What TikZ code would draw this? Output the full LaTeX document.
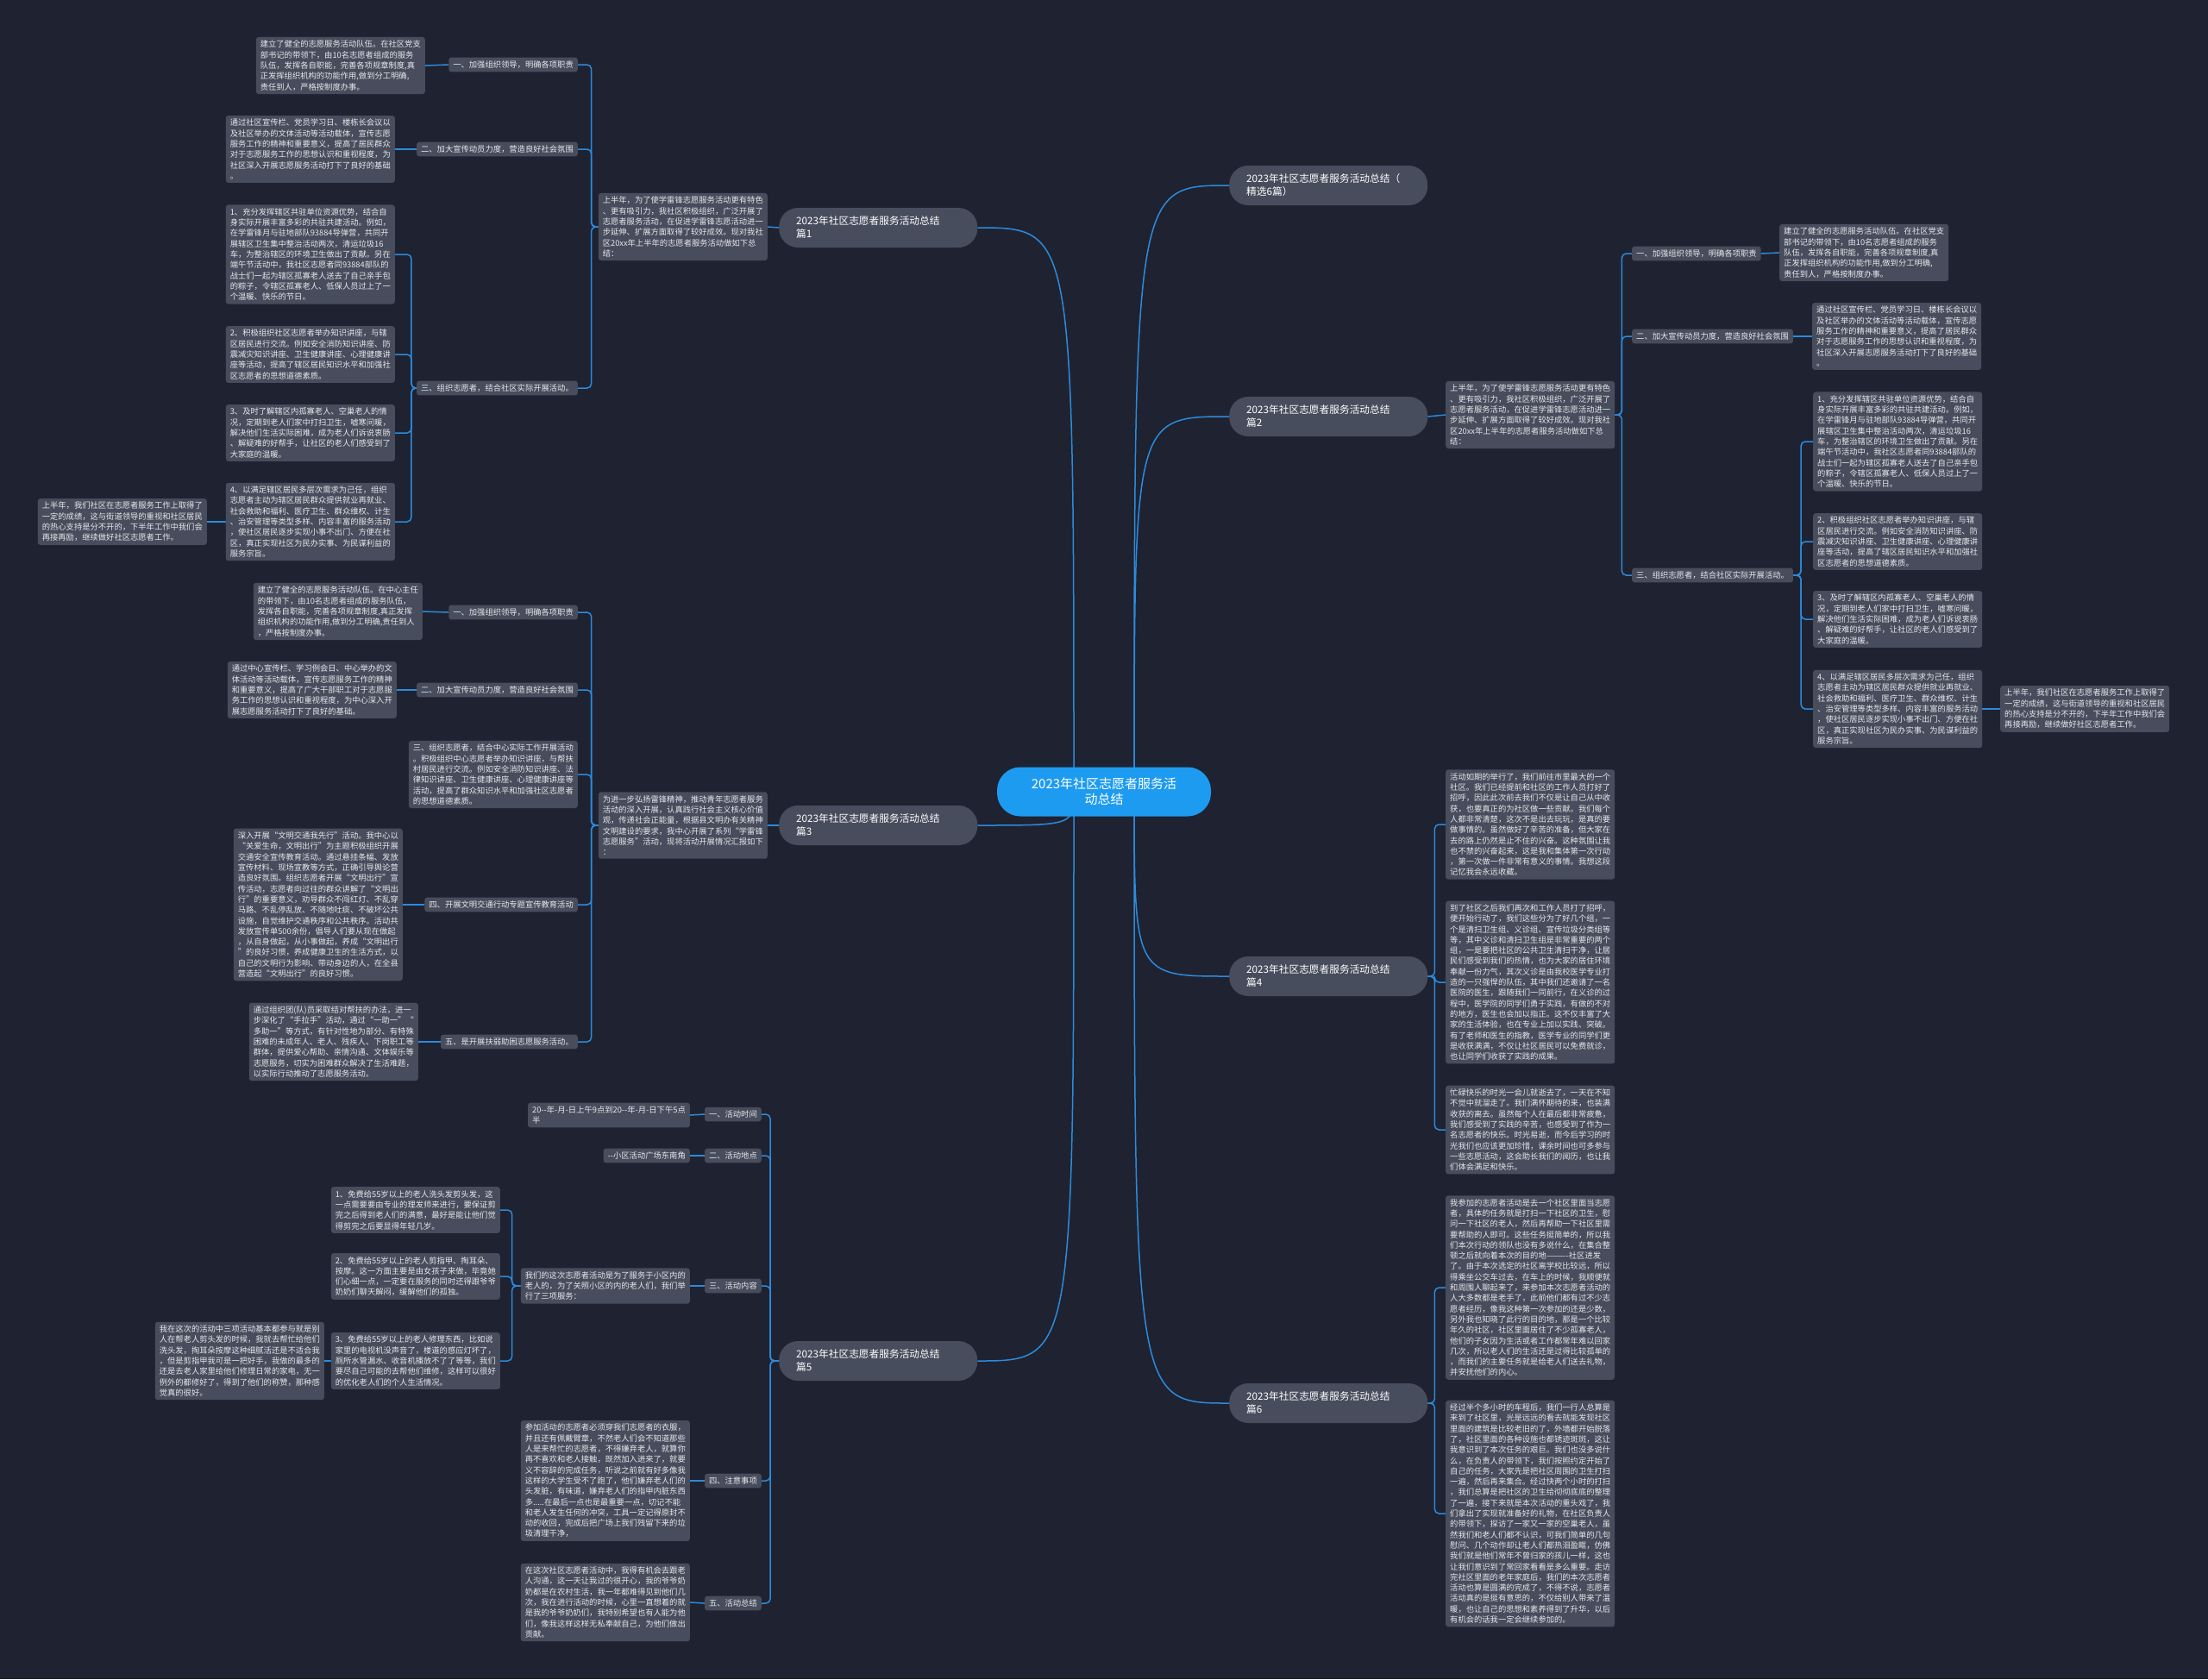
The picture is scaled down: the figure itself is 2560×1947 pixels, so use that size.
\documentclass[tikz,border=0pt]{standalone}
\usepackage{fontspec}
\newfontfamily\cjk{Noto Sans CJK SC}
\usetikzlibrary{backgrounds}
\definecolor{bgnavy}{HTML}{1F2230}
\definecolor{boxgray}{HTML}{474D5C}
\definecolor{linkblue}{HTML}{2C8BDD}
\definecolor{rootblue}{HTML}{1D9BF0}
\definecolor{txtgray}{HTML}{E8E8EC}
\tikzset{
  box/.style={fill=boxgray,rounded corners=3pt,text=txtgray,align=left,inner xsep=5pt,inner ysep=4pt,font=\cjk\fontsize{9.3}{12.3}\selectfont},
  topic/.style={fill=boxgray,rounded corners=22pt,text=white,align=left,text width=190pt,minimum height=46pt,inner xsep=20pt,font=\cjk\fontsize{11.7}{15}\selectfont},
  root/.style={fill=rootblue,rounded corners=27pt,text=white,align=center,minimum width=248pt,minimum height=57pt,font=\cjk\fontsize{15}{18}\selectfont},
  link/.style={draw=linkblue,line width=1.5pt,rounded corners=5pt},
}
\begin{document}
\begin{tikzpicture}[x=1pt,y=-1pt]
\useasboundingbox (0,0) rectangle (2560,1947);
% root and first level
\node[root] (root) at (1280,918) {2023年社区志愿者服务活\\动总结};
\node[topic,anchor=west] (bt) at (1425,215) {2023年社区志愿者服务活动总结（\\精选6篇）};
\node[topic,anchor=west] (b2) at (1425,483) {2023年社区志愿者服务活动总结\\篇2};
\node[topic,anchor=west] (b4) at (1425,1132) {2023年社区志愿者服务活动总结\\篇4};
\node[topic,anchor=west] (b6) at (1425,1627) {2023年社区志愿者服务活动总结\\篇6};
\node[topic,anchor=west] (b1) at (903,264) {2023年社区志愿者服务活动总结\\篇1};
\node[topic,anchor=west] (b3) at (903,957) {2023年社区志愿者服务活动总结\\篇3};
\node[topic,anchor=west] (b5) at (903,1578) {2023年社区志愿者服务活动总结\\篇5};

% 篇1
\node[box,anchor=east] (p1) at (890,263) {上半年，为了使学雷锋志愿服务活动更有特色\\、更有吸引力，我社区积极组织，广泛开展了\\志愿者服务活动，在促进学雷锋志愿活动进一\\步延伸、扩展方面取得了较好成效。现对我社\\区20xx年上半年的志愿者服务活动做如下总\\结：};
\node[box,anchor=east] (i11) at (670,75) {一、加强组织领导，明确各项职责};
\node[box,anchor=east] (t11) at (493,76) {建立了健全的志愿服务活动队伍。在社区党支\\部书记的带领下，由10名志愿者组成的服务\\队伍，发挥各自职能，完善各项规章制度,真\\正发挥组织机构的功能作用,做到分工明确,\\责任到人，严格按制度办事。};
\node[box,anchor=east] (i12) at (670,173) {二、加大宣传动员力度，营造良好社会氛围};
\node[box,anchor=east] (t12) at (458,173) {通过社区宣传栏、党员学习日、楼栋长会议以\\及社区举办的文体活动等活动载体，宣传志愿\\服务工作的精神和重要意义，提高了居民群众\\对于志愿服务工作的思想认识和重视程度，为\\社区深入开展志愿服务活动打下了良好的基础\\。};
\node[box,anchor=east] (i13) at (670,450) {三、组织志愿者，结合社区实际开展活动。};
\node[box,anchor=east] (t131) at (458,295) {1、充分发挥辖区共驻单位资源优势，结合自\\身实际开展丰富多彩的共驻共建活动。例如，\\在学雷锋月与驻地部队93884导弹营，共同开\\展辖区卫生集中整治活动两次，清运垃圾16\\车，为整治辖区的环境卫生做出了贡献。另在\\端午节活动中，我社区志愿者同93884部队的\\战士们一起为辖区孤寡老人送去了自己亲手包\\的粽子，令辖区孤寡老人、低保人员过上了一\\个温暖、快乐的节日。};
\node[box,anchor=east] (t132) at (458,411) {2、积极组织社区志愿者举办知识讲座，与辖\\区居民进行交流。例如安全消防知识讲座、防\\震减灾知识讲座、卫生健康讲座、心理健康讲\\座等活动，提高了辖区居民知识水平和加强社\\区志愿者的思想道德素质。};
\node[box,anchor=east] (t133) at (458,502) {3、及时了解辖区内孤寡老人、空巢老人的情\\况，定期到老人们家中打扫卫生，嘘寒问暖，\\解决他们生活实际困难，成为老人们诉说衷肠\\、解疑难的好帮手，让社区的老人们感受到了\\大家庭的温暖。};
\node[box,anchor=east] (t134) at (458,605) {4、以满足辖区居民多层次需求为己任，组织\\志愿者主动为辖区居民群众提供就业再就业、\\社会救助和福利、医疗卫生、群众维权、计生\\、治安管理等类型多样、内容丰富的服务活动\\，使社区居民逐步实现小事不出门、方便在社\\区，真正实现社区为民办实事、为民谋利益的\\服务宗旨。};
\node[box,anchor=east] (t135) at (240,605) {上半年，我们社区在志愿者服务工作上取得了\\一定的成绩，这与街道领导的重视和社区居民\\的热心支持是分不开的，下半年工作中我们会\\再接再励，继续做好社区志愿者工作。};

% 篇3
\node[box,anchor=east] (p3) at (890,957) {为进一步弘扬雷锋精神，推动青年志愿者服务\\活动的深入开展，认真践行社会主义核心价值\\观，传递社会正能量，根据县文明办有关精神\\文明建设的要求，我中心开展了系列“学雷锋\\志愿服务”活动，现将活动开展情况汇报如下\\：};
\node[box,anchor=east] (i31) at (670,710) {一、加强组织领导，明确各项职责};
\node[box,anchor=east] (t31) at (490,709) {建立了健全的志愿服务活动队伍。在中心主任\\的带领下，由10名志愿者组成的服务队伍，\\发挥各自职能，完善各项规章制度,真正发挥\\组织机构的功能作用,做到分工明确,责任到人\\，严格按制度办事。};
\node[box,anchor=east] (i32) at (670,800) {二、加大宣传动员力度，营造良好社会氛围};
\node[box,anchor=east] (t32) at (460,800) {通过中心宣传栏、学习例会日、中心举办的文\\体活动等活动载体，宣传志愿服务工作的精神\\和重要意义，提高了广大干部职工对于志愿服\\务工作的思想认识和重视程度，为中心深入开\\展志愿服务活动打下了良好的基础。};
\node[box,anchor=east] (i33) at (670,898) {三、组织志愿者，结合中心实际工作开展活动\\。积极组织中心志愿者举办知识讲座，与帮扶\\村居民进行交流。例如安全消防知识讲座、法\\律知识讲座、卫生健康讲座、心理健康讲座等\\活动，提高了群众知识水平和加强社区志愿者\\的思想道德素质。};
\node[box,anchor=east] (i34) at (670,1049) {四、开展文明交通行动专题宣传教育活动};
\node[box,anchor=east] (t34) at (467,1049) {深入开展“文明交通我先行”活动。我中心以\\“关爱生命，文明出行”为主题积极组织开展\\交通安全宣传教育活动。通过悬挂条幅、发放\\宣传材料、现场宣教等方式，正确引导舆论营\\造良好氛围。组织志愿者开展“文明出行”宣\\传活动，志愿者向过往的群众讲解了“文明出\\行”的重要意义，劝导群众不闯红灯、不乱穿\\马路、不乱停乱放、不随地吐痰、不破坏公共\\设施，自觉维护交通秩序和公共秩序。活动共\\发放宣传单500余份，倡导人们要从现在做起\\，从自身做起，从小事做起，养成“文明出行\\”的良好习惯，养成健康卫生的生活方式，以\\自己的文明行为影响、带动身边的人，在全县\\营造起“文明出行”的良好习惯。};
\node[box,anchor=east] (i35) at (670,1208) {五、是开展扶弱助困志愿服务活动。};
\node[box,anchor=east] (t35) at (485,1208) {通过组织团(队)员采取结对帮扶的办法，进一\\步深化了“手拉手”活动，通过“一助一”“\\多助一”等方式，有针对性地为部分、有特殊\\困难的未成年人、老人、残疾人、下岗职工等\\群体，提供爱心帮助、亲情沟通、文体娱乐等\\志愿服务，切实为困难群众解决了生活难题，\\以实际行动推动了志愿服务活动。};

% 篇5
\node[box,anchor=east] (i51) at (883,1292) {一、活动时间};
\node[box,anchor=east] (t51) at (800,1293) {20--年-月-日上午9点到20--年-月-日下午5点\\半};
\node[box,anchor=east] (i52) at (883,1340) {二、活动地点};
\node[box,anchor=east] (t52) at (800,1340) {--小区活动广场东南角};
\node[box,anchor=east] (i53) at (883,1491) {三、活动内容};
\node[box,anchor=east] (t53) at (800,1491) {我们的这次志愿者活动是为了服务于小区内的\\老人的，为了关照小区的内的老人们，我们举\\行了三项服务：};
\node[box,anchor=east] (t531) at (580,1403) {1、免费给55岁以上的老人洗头发剪头发，这\\一点需要要由专业的理发师来进行，要保证剪\\完之后得到老人们的满意，最好是能让他们觉\\得剪完之后要显得年轻几岁。};
\node[box,anchor=east] (t532) at (580,1480) {2、免费给55岁以上的老人剪指甲、掏耳朵、\\按摩。这一方面主要是由女孩子来做，毕竟她\\们心细一点，一定要在服务的同时还得跟爷爷\\奶奶们聊天解闷，缓解他们的孤独。};
\node[box,anchor=east] (t533) at (580,1578) {3、免费给55岁以上的老人修理东西，比如说\\家里的电视机没声音了，楼道的感应灯坏了，\\厕所水管漏水、收音机播放不了了等等，我们\\要尽自己可能的去帮他们维修，这样可以很好\\的优化老人们的个人生活情况。};
\node[box,anchor=east] (t534) at (376,1578) {我在这次的活动中三项活动基本都参与就是别\\人在帮老人剪头发的时候，我就去帮忙给他们\\洗头发，掏耳朵按摩这种细腻活还是不适合我\\，但是剪指甲我可是一把好手，我做的最多的\\还是去老人家里给他们修理日常的家电，无一\\例外的都修好了，得到了他们的称赞，那种感\\觉真的很好。};
\node[box,anchor=east] (i54) at (883,1717) {四、注意事项};
\node[box,anchor=east] (t54) at (800,1717) {参加活动的志愿者必须穿我们志愿者的衣服，\\并且还有佩戴臂章，不然老人们会不知道那些\\人是来帮忙的志愿者，不得嫌弃老人，就算你\\再不喜欢和老人接触，既然加入进来了，就要\\义不容辞的完成任务，听说之前就有好多像我\\这样的大学生受不了跑了，他们嫌弃老人们的\\头发脏，有味道，嫌弃老人们的指甲内脏东西\\多.....在最后一点也是最重要一点，切记不能\\和老人发生任何的冲突，工具一定记得原封不\\动的收回，完成后把广场上我们残留下来的垃\\圾清理干净，};
\node[box,anchor=east] (i55) at (883,1859) {五、活动总结};
\node[box,anchor=east] (t55) at (800,1858) {在这次社区志愿者活动中，我得有机会去跟老\\人沟通，这一天让我过的很开心，我的爷爷奶\\奶都是在农村生活，我一年都难得见到他们几\\次，我在进行活动的时候，心里一直想着的就\\是我的爷爷奶奶们，我特别希望也有人能为他\\们，像我这样这样无私奉献自己，为他们做出\\贡献。};

% 篇2
\node[box,anchor=west] (p2) at (1676,481) {上半年，为了使学雷锋志愿服务活动更有特色\\、更有吸引力，我社区积极组织，广泛开展了\\志愿者服务活动，在促进学雷锋志愿活动进一\\步延伸、扩展方面取得了较好成效。现对我社\\区20xx年上半年的志愿者服务活动做如下总\\结：};
\node[box,anchor=west] (i21) at (1892,294) {一、加强组织领导，明确各项职责};
\node[box,anchor=west] (t21) at (2063,293) {建立了健全的志愿服务活动队伍。在社区党支\\部书记的带领下，由10名志愿者组成的服务\\队伍，发挥各自职能，完善各项规章制度,真\\正发挥组织机构的功能作用,做到分工明确,\\责任到人，严格按制度办事。};
\node[box,anchor=west] (i22) at (1892,390) {二、加大宣传动员力度，营造良好社会氛围};
\node[box,anchor=west] (t22) at (2101,390) {通过社区宣传栏、党员学习日、楼栋长会议以\\及社区举办的文体活动等活动载体，宣传志愿\\服务工作的精神和重要意义，提高了居民群众\\对于志愿服务工作的思想认识和重视程度，为\\社区深入开展志愿服务活动打下了良好的基础\\。};
\node[box,anchor=west] (i23) at (1892,667) {三、组织志愿者，结合社区实际开展活动。};
\node[box,anchor=west] (t231) at (2102,512) {1、充分发挥辖区共驻单位资源优势，结合自\\身实际开展丰富多彩的共驻共建活动。例如，\\在学雷锋月与驻地部队93884导弹营，共同开\\展辖区卫生集中整治活动两次，清运垃圾16\\车，为整治辖区的环境卫生做出了贡献。另在\\端午节活动中，我社区志愿者同93884部队的\\战士们一起为辖区孤寡老人送去了自己亲手包\\的粽子，令辖区孤寡老人、低保人员过上了一\\个温暖、快乐的节日。};
\node[box,anchor=west] (t232) at (2102,628) {2、积极组织社区志愿者举办知识讲座，与辖\\区居民进行交流。例如安全消防知识讲座、防\\震减灾知识讲座、卫生健康讲座、心理健康讲\\座等活动，提高了辖区居民知识水平和加强社\\区志愿者的思想道德素质。};
\node[box,anchor=west] (t233) at (2102,718) {3、及时了解辖区内孤寡老人、空巢老人的情\\况，定期到老人们家中打扫卫生，嘘寒问暖，\\解决他们生活实际困难，成为老人们诉说衷肠\\、解疑难的好帮手，让社区的老人们感受到了\\大家庭的温暖。};
\node[box,anchor=west] (t234) at (2102,822) {4、以满足辖区居民多层次需求为己任，组织\\志愿者主动为辖区居民群众提供就业再就业、\\社会救助和福利、医疗卫生、群众维权、计生\\、治安管理等类型多样、内容丰富的服务活动\\，使社区居民逐步实现小事不出门、方便在社\\区，真正实现社区为民办实事、为民谋利益的\\服务宗旨。};
\node[box,anchor=west] (t235) at (2319,822) {上半年，我们社区在志愿者服务工作上取得了\\一定的成绩，这与街道领导的重视和社区居民\\的热心支持是分不开的，下半年工作中我们会\\再接再励，继续做好社区志愿者工作。};

% 篇4
\node[box,anchor=west] (t41) at (1676,956) {活动如期的举行了，我们前往市里最大的一个\\社区。我们已经提前和社区的工作人员打好了\\招呼，因此此次前去我们不仅是让自己从中收\\获，也要真正的为社区做一些贡献。我们每个\\人都非常清楚，这次不是出去玩玩，是真的要\\做事情的。虽然做好了辛苦的准备，但大家在\\去的路上仍然是止不住的兴奋。这种氛围让我\\也不禁的兴奋起来，这是我和集体第一次行动\\，第一次做一件非常有意义的事情。我想这段\\记忆我会永远收藏。};
\node[box,anchor=west] (t42) at (1676,1139) {到了社区之后我们再次和工作人员打了招呼，\\便开始行动了，我们这些分为了好几个组，一\\个是清扫卫生组、义诊组、宣传垃圾分类组等\\等，其中义诊和清扫卫生组是非常重要的两个\\组，一是要把社区的公共卫生清扫干净，让居\\民们感受到我们的热情，也为大家的居住环境\\奉献一份力气，其次义诊是由我校医学专业打\\造的一只强悍的队伍，其中我们还邀请了一名\\医院的医生，跟随我们一同前行，在义诊的过\\程中，医学院的同学们勇于实践，有做的不对\\的地方，医生也会加以指正。这不仅丰富了大\\家的生活体验，也在专业上加以实践、突破。\\有了老师和医生的指教，医学专业的同学们更\\是收获满满，不仅让社区居民可以免费就诊，\\也让同学们收获了实践的成果。};
\node[box,anchor=west] (t43) at (1676,1310) {忙碌快乐的时光一会儿就逝去了，一天在不知\\不觉中就溜走了。我们满怀期待的来，也装满\\收获的离去。虽然每个人在最后都非常疲惫，\\我们感受到了实践的辛苦，也感受到了作为一\\名志愿者的快乐。时光易逝，而今后学习的时\\光我们也应该更加珍惜，课余时间也可多参与\\一些志愿活动，这会助长我们的阅历，也让我\\们体会满足和快乐。};

% 篇6
\node[box,anchor=west] (t61) at (1676,1493) {我参加的志愿者活动是去一个社区里面当志愿\\者，具体的任务就是打扫一下社区的卫生，慰\\问一下社区的老人，然后再帮助一下社区里需\\要帮助的人即可。这些任务挺简单的，所以我\\们本次行动的领队也没有多说什么，在集合整\\顿之后就向着本次的目的地———-社区进发\\了。由于本次选定的社区离学校比较远，所以\\得乘坐公交车过去，在车上的时候，我顺便就\\和周围人聊起来了，来参加本次志愿者活动的\\人大多数都是老手了，此前他们都有过不少志\\愿者经历，像我这种第一次参加的还是少数，\\另外我也知晓了此行的目的地，那是一个比较\\年久的社区，社区里面居住了不少孤寡老人，\\他们的子女因为生活或者工作都常年难以回家\\几次，所以老人们的生活还是过得比较孤单的\\，而我们的主要任务就是给老人们送去礼物，\\并安抚他们的内心。};
\node[box,anchor=west] (t62) at (1676,1755) {经过半个多小时的车程后，我们一行人总算是\\来到了社区里，光是远远的看去就能发现社区\\里面的建筑是比较老旧的了，外墙都开始脱落\\了，社区里面的各种设施也都锈迹斑斑，这让\\我意识到了本次任务的艰巨。我们也没多说什\\么，在负责人的带领下，我们按照约定开始了\\自己的任务，大家先是把社区周围的卫生打扫\\一遍，然后再来集合。经过快两个小时的打扫\\，我们总算是把社区的卫生给彻彻底底的整理\\了一遍，接下来就是本次活动的重头戏了，我\\们拿出了实现就准备好的礼物，在社区负责人\\的带领下，探访了一家又一家的空巢老人，虽\\然我们和老人们都不认识，可我们简单的几句\\慰问、几个动作却让老人们都热泪盈眶，仿佛\\我们就是他们常年不曾归家的孩儿一样，这也\\让我们意识到了常回家看看是多么重要。走访\\完社区里面的老年家庭后，我们的本次志愿者\\活动也算是圆满的完成了，不得不说，志愿者\\活动真的是挺有意思的，不仅给别人带来了温\\暖，也让自己的思想和素养得到了升华，以后\\有机会的话我一定会继续参加的。};

\begin{scope}[on background layer]
\fill[bgnavy] (0,0) rectangle (2560,1947);
% curves from the root
\coordinate (cl) at (1245,918);
\coordinate (cr) at (1315,918);
\foreach \b in {b1,b3,b5}
  \draw[link] (cl) .. controls (cl |- \b.east) .. (\b.east);
\foreach \b in {bt,b2,b4,b6}
  \draw[link] (cr) .. controls (cr |- \b.west) .. (\b.west);
% left brackets
\draw[link] (b1.west) -- (p1.east);
\foreach \c in {i11,i12,i13}
  \draw[link] (p1.west) -- ++(-8,0) |- (\c.east);
\draw[link] (i11.west) -- (t11.east);
\draw[link] (i12.west) -- (t12.east);
\foreach \c in {t131,t132,t133,t134}
  \draw[link] (i13.west) -- ++(-6,0) |- (\c.east);
\draw[link] (t134.west) -- (t135.east);
\draw[link] (b3.west) -- (p3.east);
\foreach \c in {i31,i32,i33,i34,i35}
  \draw[link] (p3.west) -- ++(-8,0) |- (\c.east);
\draw[link] (i31.west) -- (t31.east);
\draw[link] (i32.west) -- (t32.east);
\draw[link] (i34.west) -- (t34.east);
\draw[link] (i35.west) -- (t35.east);
\foreach \c in {i51,i52,i53,i54,i55}
  \draw[link] (b5.west) -- ++(-10,0) |- (\c.east);
\draw[link] (i51.west) -- (t51.east);
\draw[link] (i52.west) -- (t52.east);
\draw[link] (i54.west) -- (t54.east);
\draw[link] (i55.west) -- (t55.east);
\draw[link] (i53.west) -- (t53.east);
\foreach \c in {t531,t532,t533}
  \draw[link] (t53.west) -- ++(-10,0) |- (\c.east);
\draw[link] (t533.west) -- (t534.east);
% right brackets
\draw[link] (b2.east) -- (p2.west);
\foreach \c in {i21,i22,i23}
  \draw[link] (p2.east) -- ++(8,0) |- (\c.west);
\draw[link] (i21.east) -- (t21.west);
\draw[link] (i22.east) -- (t22.west);
\foreach \c in {t231,t232,t233,t234}
  \draw[link] (i23.east) -- ++(9,0) |- (\c.west);
\draw[link] (t234.east) -- (t235.west);
\foreach \c in {t41,t42,t43}
  \draw[link] (b4.east) -- ++(8,0) |- (\c.west);
\foreach \c in {t61,t62}
  \draw[link] (b6.east) -- ++(8,0) |- (\c.west);
\end{scope}
\end{tikzpicture}
\end{document}
